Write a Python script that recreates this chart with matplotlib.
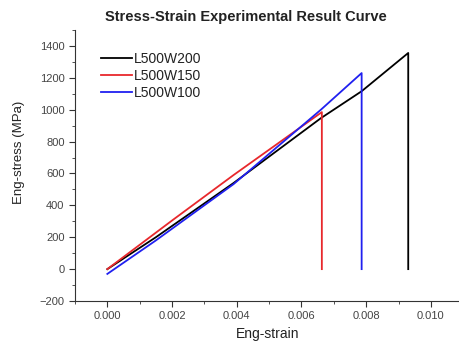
import matplotlib
matplotlib.use("Agg")
import matplotlib.pyplot as plt
from matplotlib.ticker import MultipleLocator, FormatStrFormatter

plt.rcParams["font.family"] = ["Liberation Sans", "DejaVu Sans"]

strain_w200 = [0.0, 0.0015, 0.0039, 0.0066, 0.00786, 0.0093, 0.0093]
stress_w200 = [0, 200, 540, 947, 1116, 1356, 0]
strain_w150 = [0.0, 0.002, 0.0039, 0.00663, 0.00663]
stress_w150 = [0, 305, 590, 985, 0]
strain_w100 = [0.0, 0.0015, 0.0039, 0.0066, 0.00786, 0.00786]
stress_w100 = [-30, 180, 533, 1000, 1230, 0]

labels = ["L500W200", "L500W150", "L500W100"]
colors = ["#000000", "#e8282c", "#2020f0"]

fig = plt.figure(figsize=(4.6, 3.45), dpi=100)
ax = fig.add_axes([0.163, 0.1275, 0.837, 0.7855])

for xs, ys, lab, c in zip([strain_w200, strain_w150, strain_w100],
                          [stress_w200, stress_w150, stress_w100], labels, colors):
    ax.plot(xs, ys, color=c, lw=1.3, label=lab)

ax.set_xlim(-0.001, 0.0109)
ax.set_ylim(-200, 1500)
ax.xaxis.set_major_locator(MultipleLocator(0.002))
ax.xaxis.set_minor_locator(MultipleLocator(0.001))
ax.yaxis.set_major_locator(MultipleLocator(200))
ax.yaxis.set_minor_locator(MultipleLocator(100))
ax.xaxis.set_major_formatter(FormatStrFormatter("%.3f"))
for s in ["top", "right"]:
    ax.spines[s].set_visible(False)
for s in ["left", "bottom"]:
    ax.spines[s].set_color("#333333")
ax.tick_params(which="both", direction="out", colors="#333333", labelsize=8,
               labelcolor="#444444")
ax.tick_params(which="major", length=4)
ax.tick_params(which="minor", length=2)

ax.set_xlabel("Eng-strain", fontsize=10, color="#222222", labelpad=4)
ax.set_ylabel("Eng-stress (MPa)", fontsize=9.5, color="#222222")
ax.yaxis.set_label_coords(-0.13, 0.55)
fig.suptitle("Stress-Strain Experimental Result Curve", x=0.535, y=0.97,
             fontsize=10.5, fontweight="bold", color="#222222")

leg = ax.legend(loc="upper left", bbox_to_anchor=(0.035, 0.965), frameon=False,
                fontsize=10, handlelength=2.2, handletextpad=0.2, labelspacing=0.22)
for t in leg.get_texts():
    t.set_color("#222222")

fig.savefig("out.png", dpi=100)
